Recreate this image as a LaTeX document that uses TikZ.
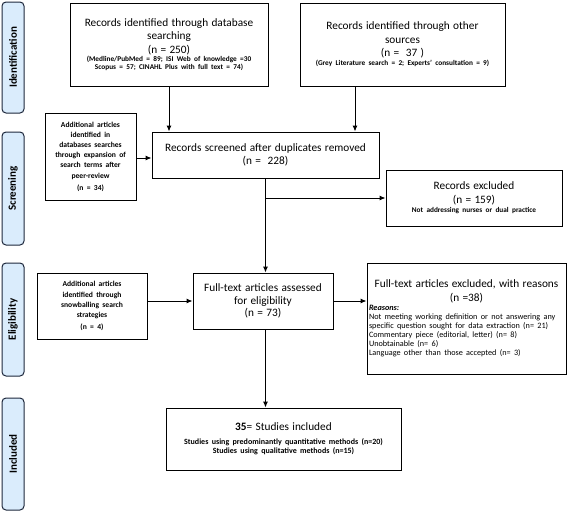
\documentclass[tikz,border=0pt]{standalone}
\usepackage{fontspec}
\setmainfont{Carlito}
\usetikzlibrary{arrows.meta}
\definecolor{phasefill}{RGB}{218,236,252}
\definecolor{phaseline}{RGB}{30,40,60}
\newcommand{\ttlfont}{\fontsize{11.3}{13.5}\selectfont}
\newcommand{\smlfont}{\bfseries\fontsize{7.3}{8.2}\selectfont}
\newcommand{\addfont}{\bfseries\fontsize{7.6}{10.2}\selectfont}
\begin{document}
\begin{tikzpicture}[x=1pt,y=-1pt,
  box/.style={draw, line width=0.9pt, inner sep=2pt, align=center},
  phase/.style={draw=phaseline, fill=phasefill, rounded corners=4pt, line width=1pt,
     minimum height=22pt, inner sep=1pt, font=\bfseries\fontsize{11}{12}\selectfont, rotate=90},
  arr/.style={-{Latex[length=6pt,width=5pt]}, line width=1pt}]
\useasboundingbox (0,0) rectangle (568,512);

% phase bars
\node[phase, minimum width=111pt] (pid) at (13,57.5) {Identification};
\node[phase, minimum width=113pt] (pscr) at (13,188.5) {Screening};
\node[phase, minimum width=113pt] (pel) at (13,319.5) {Eligibility};
\node[phase, minimum width=112pt] (pinc) at (13,454) {Included};

% boxes
\node[box, minimum width=198pt, minimum height=83pt, text width=194pt] (db) at (169,44.5)
 {\ttlfont Records identified through database\\searching\\(n = 250)\par
  \smlfont (Medline/PubMed = 89; ISI Web of knowledge =30\\Scopus = 57; CINAHL Plus with full text = 74)\par\vspace{6pt}};
\node[box, minimum width=205pt, minimum height=83pt, text width=201pt] (other) at (402.5,44.5)
 {\ttlfont Records identified through other\\sources\\(n =\ \ 37 )\par\vspace{1pt}
  \smlfont (Grey Literature search = 2; Experts’ consultation = 9)\par\vspace{10pt}};
\node[box, minimum width=91pt, minimum height=87pt, text width=87pt] (addA) at (90.5,156.5)
 {\addfont Additional articles\\identified in\\databases searches\\through expansion of\\search terms after\\peer-review\\(n = 34)};
\node[box, minimum width=227pt, minimum height=46pt, text width=223pt] (scr) at (265.5,155)
 {\ttlfont Records screened after duplicates removed\\(n =\ \ 228)\par\vspace{6pt}};
\node[box, minimum width=176pt, minimum height=56pt, text width=172pt] (exA) at (474,198)
 {\ttlfont Records excluded\\(n = 159)\par\vspace{1pt}
  \smlfont Not addressing nurses or dual practice\par};
\node[box, minimum width=110pt, minimum height=66pt, text width=106pt] (addB) at (92,306)
 {\addfont Additional articles\\identified through\\snowballing search\\strategies\\(n = 4)};
\node[box, minimum width=140pt, minimum height=56pt, text width=136pt] (full) at (263,301)
 {\ttlfont Full-text articles assessed\\for eligibility\\(n = 73)};
\node[box, minimum width=199pt, minimum height=111pt, text width=195pt] (exB) at (466.5,318.5)
 {{\ttlfont Full-text articles excluded, with reasons\\(n =38)\par}
  \raggedright\fontsize{8.2}{9}\selectfont
  \textbf{\textit{Reasons:}}\\
  Not meeting working definition or not answering any\\
  specific question sought for data extraction (n= 21)\\
  Commentary piece (editorial, letter) (n= 8)\\
  Unobtainable (n= 6)\\
  Language other than those accepted (n= 3)\par\vspace{8pt}};
\node[box, minimum width=235pt, minimum height=62pt, text width=231pt] (inc) at (283.5,439)
 {\ttlfont \textbf{35}= Studies included\par\vspace{5pt}
  \bfseries\fontsize{8}{9}\selectfont Studies using predominantly quantitative methods (n=20)\\
  Studies using qualitative methods (n=15)\par\vspace{6pt}};

% connectors
\coordinate (oth) at ([xshift=-47.5pt]other.south);
\draw[arr] (db.south) -- (db.south |- scr.north);
\draw[arr] (oth) -- (oth |- scr.north);
\draw[arr] (addA.east |- 0,158) -- (scr.west |- 0,158);
\draw[arr] (scr.south) -- (scr.south |- full.north);
\draw[arr] (scr.south |- exA.west) -- (exA.west);
\draw[arr] (addB.east |- full.west) -- (full.west);
\draw[arr] (full.east) -- (full.east -| exB.west);
\draw[arr] (full.south -| scr.south) -- (scr.south |- inc.north);
\end{tikzpicture}
\end{document}
